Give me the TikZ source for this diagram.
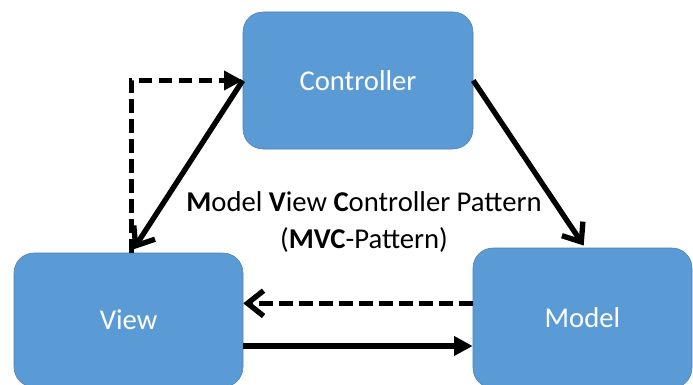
\documentclass[tikz,border=0pt]{standalone}
\usepackage{fontspec}
\setmainfont{Carlito}
\usetikzlibrary{arrows.meta}
\definecolor{boxblue}{HTML}{5B9BD5}
\definecolor{boxedge}{HTML}{4A7EB5}

\begin{document}
\begin{tikzpicture}[
  x=0.75pt, y=-0.75pt,
  box/.style={draw=boxedge, fill=boxblue, rounded corners=15pt, text=white, font=\fontsize{21.5}{25}\selectfont},
  arrow/.style={line width=4pt, -{Straight Barb[length=12pt, width=19pt]}},
  fillarrow/.style={line width=4pt, -{Triangle[length=14pt, width=14pt]}},
  dashline/.style={dash pattern=on 10pt off 5pt}
]
\useasboundingbox (0,0) rectangle (693,385);
% the three parts
\node[box, minimum width=172.5pt, minimum height=102.75pt] (ctrl) at (358,80.5) {Controller};
\node[box, minimum width=171.75pt, minimum height=100.5pt] (view) at (128.5,320) {View};
\node[box, minimum width=164.25pt, minimum height=105pt] (model) at (582.5,318) {Model};
\node[align=center, inner sep=0pt, font=\fontsize{21.5}{28}\selectfont] (title) at (364,222)
  {\textbf{M}odel \textbf{V}iew \textbf{C}ontroller Pattern\\(\textbf{MVC}-Pattern)};
% connectors
\draw[arrow, shorten >=3pt] (ctrl.west) -- ([xshift=2pt]view.north);
\draw[fillarrow, dashline] ([xshift=2pt]view.north) |- (ctrl.west);
\draw[arrow, shorten >=2pt] (ctrl.east) -- ([xshift=2pt]model.north);
\coordinate (m1) at ([yshift=11pt]model.west);
\coordinate (v1) at ([yshift=-19.5pt]view.east);
\draw[arrow, dashline] (m1) -- (view.east |- m1);
\draw[fillarrow] (v1) -- (model.west |- v1);
\end{tikzpicture}
\end{document}
